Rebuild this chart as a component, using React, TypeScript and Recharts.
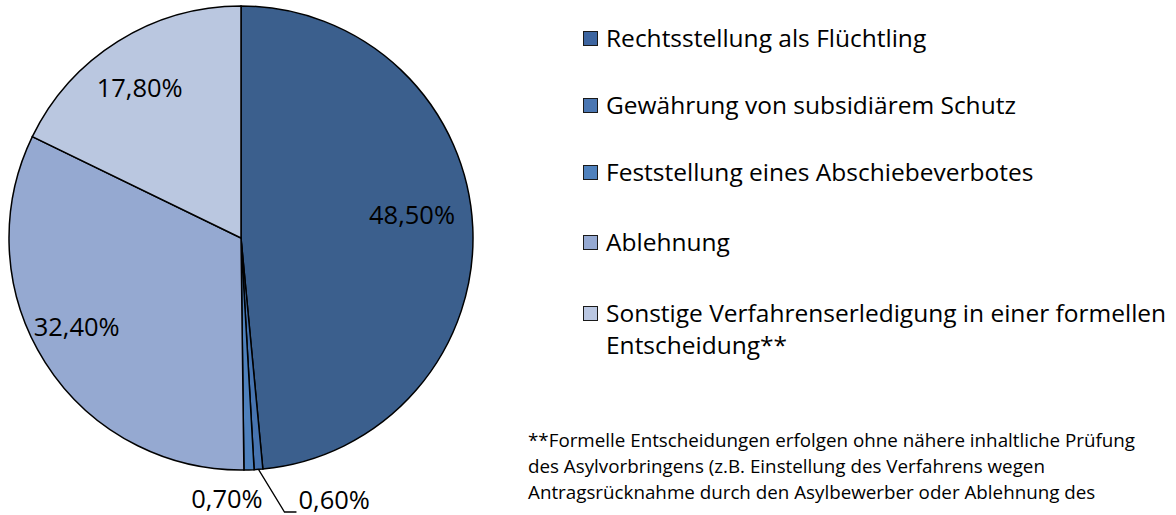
import { Cell, Pie, PieChart } from "recharts";

const categories = [
  "Rechtsstellung als Flüchtling",
  "Gewährung von subsidiärem Schutz",
  "Feststellung eines Abschiebeverbotes",
  "Ablehnung",
  "Sonstige Verfahrenserledigung in einer formellen Entscheidung**",
];

const shares = [48.5, 0.6, 0.7, 32.4, 17.8];

const COLORS = ["#3B5F8D", "#4774B0", "#4F81BD", "#95A9D1", "#BAC7E0"];
const LEGEND_COLORS = ["#3D65A0", "#4A76B2", "#4F81BD", "#95A9D2", "#BAC7E2"];

const footnote = [
  "**Formelle Entscheidungen erfolgen ohne nähere inhaltliche Prüfung",
  "des Asylvorbringens (z.B. Einstellung des Verfahrens wegen",
  "Antragsrücknahme durch den Asylbewerber oder Ablehnung des",
];

const data = categories.map((name, i) => ({ name, value: shares[i] }));

const FONT = "'Open Sans', sans-serif";
const RAD = Math.PI / 180;

const fmt = (v: number) => v.toFixed(2).replace(".", ",") + "%";

// legend baselines
const LEGEND_BASE = [47, 114, 181, 251, 322];

function renderLabel(props: any) {
  const { cx, cy, midAngle, outerRadius, index, value } = props;
  const style = { fontFamily: FONT, fontSize: 25.5, fill: "#000" };
  if (index === 1) {
    // small slice: label with leader line below the pie
    const ex = cx + outerRadius * Math.cos(-midAngle * RAD);
    const ey = cy + outerRadius * Math.sin(-midAngle * RAD);
    const by = cy + outerRadius + 42;
    const bx = ex + 26;
    return (
      <g>
        <polyline
          points={`${ex},${ey} ${bx},${by} ${bx + 12},${by}`}
          fill="none"
          stroke="#000"
          strokeWidth={1.3}
        />
        <text x={bx + 14} y={by - 3} textAnchor="start" {...style}>
          {fmt(value)}
        </text>
      </g>
    );
  }
  if (index === 2) {
    return (
      <text x={cx - 14} y={cy + outerRadius + 38} textAnchor="middle" {...style}>
        {fmt(value)}
      </text>
    );
  }
  const r = index === 0 ? outerRadius * 0.744 : index === 3 ? outerRadius * 0.805 : outerRadius * 0.78;
  const a = index === 0 ? midAngle + 5 : index === 3 ? midAngle - 4 : midAngle + 2;
  const x = cx + r * Math.cos(-a * RAD);
  const y = cy + r * Math.sin(-a * RAD);
  return (
    <text x={x} y={y + 9} textAnchor="middle" {...style}>
      {fmt(value)}
    </text>
  );
}

export default function App() {
  return (
    <div
      style={{
        position: "absolute",
        left: 0,
        top: 0,
        width: 1176,
        height: 515,
        background: "#fff",
        fontFamily: FONT,
        overflow: "hidden",
      }}
    >
      <div style={{ position: "absolute", left: 0, top: 0 }}>
        <PieChart width={520} height={515} margin={{ top: 0, right: 0, bottom: 0, left: 0 }}>
          <Pie
            data={data}
            dataKey="value"
            nameKey="name"
            cx={241}
            cy={238}
            outerRadius={232}
            startAngle={90}
            endAngle={-270}
            stroke="#000"
            strokeWidth={1.5}
            label={renderLabel}
            labelLine={false}
            isAnimationActive={false}
          >
            {data.map((_, i) => (
              <Cell key={i} fill={COLORS[i]} />
            ))}
          </Pie>
        </PieChart>
      </div>

      {categories.map((c, i) => (
        <div
          key={c}
          style={{
            position: "absolute",
            left: 583,
            top: LEGEND_BASE[i] - 25.5,
            width: 600,
            display: "flex",
            alignItems: "flex-start",
            fontSize: 24.5,
            lineHeight: "32px",
            color: "#000",
          }}
        >
          <span
            style={{
              width: 13,
              height: 13,
              marginTop: 9.5,
              marginRight: 8,
              flexShrink: 0,
              border: "1.5px solid #1a1a1a",
              background: LEGEND_COLORS[i],
            }}
          />
          <span style={{ width: 580, whiteSpace: "nowrap" }}>
            {i === 4 ? (
              <>
                Sonstige Verfahrenserledigung in einer formellen
                <br />
                Entscheidung**
              </>
            ) : (
              c
            )}
          </span>
        </div>
      ))}

      <div
        style={{
          position: "absolute",
          left: 528,
          top: 426.5,
          fontSize: 18.8,
          lineHeight: "26px",
          color: "#000",
          whiteSpace: "nowrap",
        }}
      >
        {footnote.map((l) => (
          <div key={l}>{l}</div>
        ))}
      </div>
    </div>
  );
}
